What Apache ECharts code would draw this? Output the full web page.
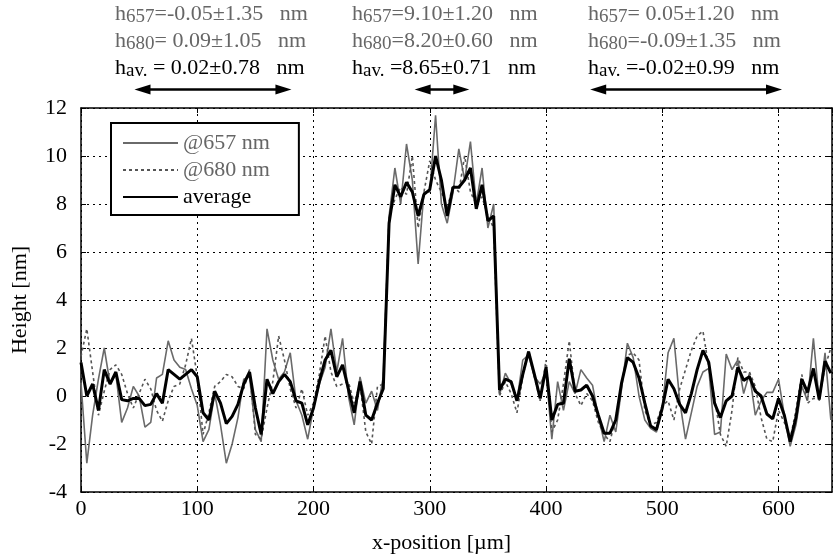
<!DOCTYPE html>
<html><head><meta charset="utf-8">
<script src="https://cdn.jsdelivr.net/npm/echarts@6/dist/echarts.min.js"></script>
<style>html,body{margin:0;padding:0;background:#fff}#c{width:833px;height:559px}</style>
</head><body><div id="c"></div>
<script>
// x positions in µm
const xPositions = [
  0,5,10,15,20,25,30,35,40,45, 50,55,60,65,70,75,80,85,90,95,
  100,105,110,115,120,125,130,135,140,145, 150,155,160,165,170,175,180,185,190,195,
  200,205,210,215,220,225,230,235,240,245, 250,255,260,265,270,275,280,285,290,295,
  300,305,310,315,320,325,330,335,340,345, 350,355,360,365,370,375,380,385,390,395,
  400,405,410,415,420,425,430,435,440,445, 450,455,460,465,470,475,480,485,490,495,
  500,505,510,515,520,525,530,535,540,545, 550,555,560,565,570,575,580,585,590,595,
  600,605,610,615,620,625,630,635,640,645
];
// Height [nm] measured @657 nm
const height657 = [
  0.55,-2.8,-0.8,0.7,2.0,0.5,0.9,-1.1,-0.5,0.4,
  0.0,-1.3,-1.1,0.75,0.9,2.3,1.5,1.2,1.1,0.3,
  -0.4,-1.9,-1.4,0.1,-1.2,-2.8,-2.0,-0.9,0.7,0.8,
  -1.4,-1.9,2.8,1.5,0.7,1.0,1.8,-0.2,-0.8,-1.8,
  -0.5,0.5,1.2,2.8,1.0,2.4,0.0,-1.2,0.8,-0.3,
  0.2,-0.6,0.8,7.5,9.5,8.0,10.5,9.0,5.5,8.5,
  8.5,11.7,8.0,7.2,8.5,10.3,9.0,10.6,8.0,9.5,
  7.0,8.0,0.05,0.95,0.5,-0.2,1.5,1.7,0.8,0.5,
  1.0,-1.8,0.6,-0.6,0.6,0.1,1.1,0.75,0.45,-0.85,
  -1.9,-0.8,-1.5,0.3,2.2,1.6,0.0,-1.0,-1.35,-1.5,
  -0.5,1.8,2.4,-0.2,-1.8,-0.7,0.4,1.0,1.15,-1.6,
  -1.5,1.75,1.1,1.5,0.1,0.95,-0.8,-0.2,0.15,0.15,
  0.7,-0.8,-2.1,-1.2,0.4,-0.2,2.4,-0.2,1.8,-1.0
];
// Height [nm] measured @680 nm
const height680 = [
  1.65,2.8,1.0,-0.8,0.2,1.1,1.3,0.9,0.1,-0.5,
  0.1,0.7,0.3,-0.6,-1.05,-0.2,0.4,0.5,1.3,2.4,
  0.8,-1.6,-0.7,0.4,0.6,0.9,0.8,0.4,0.3,1.1,
  -1.6,-1.8,-0.5,0.6,2.5,1.5,0.3,-0.5,0.3,-0.8,
  -0.3,0.9,2.5,1.0,0.4,0.5,0.6,-0.3,0.5,-1.5,
  -2.0,0.4,0.5,7.5,8.2,8.7,8.4,10.0,7.0,8.5,
  9.8,9.0,8.5,7.8,8.8,8.5,10.0,8.5,8.0,8.3,
  7.5,7.0,0.0,0.6,0.1,-0.7,0.8,1.9,0.8,-0.2,
  1.5,-1.5,-1.0,0.5,2.3,0.1,-0.4,0.1,-0.2,-1.1,
  -1.6,-1.9,-0.9,0.5,1.7,1.8,1.5,-0.6,-1.2,-1.1,
  -0.4,-0.2,-1.0,0.3,1.1,1.9,2.5,2.7,1.2,-0.1,
  -1.6,-2.1,-0.6,1.6,1.0,1.0,0.4,-0.9,-1.8,-1.9,
  -0.6,-1.1,-1.8,-0.6,0.9,-0.3,-0.1,-0.1,1.2,2.0
];
// Height [nm] average
const heightAverage = [
  1.4,0.0,0.5,-0.6,1.1,0.5,1.0,-0.15,-0.2,-0.1,
  -0.1,-0.4,-0.35,0.1,-0.3,1.1,0.9,0.7,0.9,1.1,
  0.8,-0.7,-1.0,0.2,-0.3,-1.15,-0.85,-0.35,0.5,1.0,
  -0.5,-1.6,0.7,0.1,0.6,0.9,0.6,-0.2,-0.3,-1.2,
  -0.5,0.6,1.5,1.9,0.8,1.3,0.3,-0.7,0.6,-0.8,
  -1.0,-0.3,0.3,7.2,8.8,8.3,8.9,8.5,7.5,8.4,
  8.6,10.0,9.0,7.5,8.7,8.7,9.0,9.5,7.8,8.8,
  7.3,7.5,0.25,0.7,0.6,-0.2,0.9,1.85,0.9,-0.1,
  1.2,-1.0,-0.35,-0.3,1.55,0.2,0.25,0.45,0.0,-0.8,
  -1.55,-1.55,-1.0,0.55,1.6,1.4,0.75,-0.3,-1.25,-1.4,
  -0.5,0.7,0.3,-0.35,-0.7,0.1,1.1,1.9,1.4,-0.3,
  -0.9,-0.2,0.0,1.2,0.65,0.8,0.2,0.0,-0.75,-0.95,
  -0.1,-0.8,-1.9,-0.9,0.7,0.15,1.15,-0.15,1.45,0.95
];
const seriesNames = ['@657 nm', '@680 nm', 'average'];
// annotated x ranges (µm) and their statistics
const spanStarts = [46, 287, 438];
const spanEnds = [181, 334, 603];
const label657 = ['=-0.05±1.35   nm', '=9.10±1.20   nm', '= 0.05±1.20   nm'];
const label680 = ['= 0.09±1.05   nm', '=8.20±0.60   nm', '=-0.09±1.35   nm'];
const labelAvg = [' = 0.02±0.78   nm', ' =8.65±0.71   nm', ' =-0.02±0.99   nm'];
const textLeft = [115, 352, 588];

const FONT = "'Liberation Serif','Times New Roman',serif";
const GRAY = '#666666';
const pairs = arr => xPositions.map((x, i) => [x, arr[i]]);

const chart = echarts.init(document.getElementById('c'), null, {renderer: 'canvas'});
const gridLine = {show: true, lineStyle: {color: '#000', width: 1, type: [2, 4]}};
const axisLineStyle = {show: true, onZero: false, lineStyle: {color: '#000', width: 1.5}};
const tick = {show: true, inside: true, length: 5, lineStyle: {color: '#000', width: 1}};

chart.setOption({
  animation: false,
  backgroundColor: '#fff',
  grid: {left: 81, right: 1, top: 108, bottom: 67, containLabel: false},
  legend: {
    orient: 'vertical', left: 111, top: 123,
    padding: [9, 29, 7, 11], itemGap: 5, itemWidth: 55, itemHeight: 20,
    borderColor: '#000', borderWidth: 2, backgroundColor: '#fff',
    itemStyle: {opacity: 0},
    textStyle: {fontFamily: FONT, fontSize: 22},
    data: [
      {name: seriesNames[0], textStyle: {color: GRAY}},
      {name: seriesNames[1], textStyle: {color: GRAY}},
      {name: seriesNames[2], textStyle: {color: '#000'}}
    ]
  },
  xAxis: [{
    type: 'value', min: 0, max: 646, interval: 100, position: 'bottom',
    axisLine: axisLineStyle, axisTick: tick,
    axisLabel: {color: '#000', fontFamily: FONT, fontSize: 22, margin: 6, showMaxLabel: false},
    splitLine: gridLine,
    name: 'x-position [µm]', nameLocation: 'middle', nameGap: 40,
    nameTextStyle: {color: '#000', fontFamily: FONT, fontSize: 22, padding: [0, 30, 0, 0]}
  }, {
    type: 'value', min: 0, max: 646, interval: 100, position: 'top',
    axisLine: axisLineStyle, axisTick: tick, axisLabel: {show: false}, splitLine: {show: false}
  }],
  yAxis: [{
    type: 'value', min: -4, max: 12, interval: 2, position: 'left',
    axisLine: axisLineStyle, axisTick: tick,
    axisLabel: {color: '#000', fontFamily: FONT, fontSize: 22, margin: 14},
    splitLine: gridLine,
    name: 'Height [nm]', nameLocation: 'middle', nameGap: 50,
    nameTextStyle: {color: '#000', fontFamily: FONT, fontSize: 22}
  }, {
    type: 'value', min: -4, max: 12, interval: 2, position: 'right',
    axisLine: axisLineStyle, axisTick: tick, axisLabel: {show: false}, splitLine: {show: false}
  }],
  series: [
    {name: seriesNames[0], type: 'line', data: pairs(height657), symbol: 'none', z: 3,
     lineStyle: {color: '#6a6a6a', width: 1.6}, itemStyle: {color: '#6a6a6a'}},
    {name: seriesNames[1], type: 'line', data: pairs(height680), symbol: 'none', z: 4,
     lineStyle: {color: '#555555', width: 1.6, type: [3, 3]}, itemStyle: {color: '#555555'}},
    {name: seriesNames[2], type: 'line', data: pairs(heightAverage), symbol: 'none', z: 5,
     lineStyle: {color: '#000', width: 3}, itemStyle: {color: '#000'}}
  ]
});

// annotations above the plot
const graphics = [];
const richStyle = (color) => ({
  m: {fontFamily: FONT, fontSize: 22, fill: color, color: color, verticalAlign: 'bottom', padding: [0, 0, 2, 0]},
  s: {fontFamily: FONT, fontSize: 19, fill: color, color: color, verticalAlign: 'bottom'}
});
const lineY = [15, 42, 69];
for (let i = 0; i < spanStarts.length; i++) {
  const rows = [
    {t: '{m|h}{s|657}{m|' + label657[i] + '}', c: GRAY},
    {t: '{m|h}{s|680}{m|' + label680[i] + '}', c: GRAY},
    {t: '{m|h}{s|av.}{m|' + labelAvg[i] + '}', c: '#000'}
  ];
  rows.forEach((r, k) => {
    graphics.push({type: 'text', x: textLeft[i], y: lineY[k], z: 10,
      style: {text: r.t, rich: richStyle(r.c), fill: r.c, align: 'left', verticalAlign: 'middle', font: '22px ' + FONT}});
  });
  const xa = chart.convertToPixel({xAxisIndex: 0}, spanStarts[i]);
  const xb = chart.convertToPixel({xAxisIndex: 0}, spanEnds[i]);
  const ay = 89.5, hl = 16, hw = 5;
  graphics.push({type: 'line', z: 10, shape: {x1: xa + hl - 2, y1: ay, x2: xb - hl + 2, y2: ay},
    style: {stroke: '#000', lineWidth: 2.5}});
  graphics.push({type: 'polygon', z: 10, shape: {points: [[xa, ay], [xa + hl, ay - hw], [xa + hl, ay + hw]]},
    style: {fill: '#000'}});
  graphics.push({type: 'polygon', z: 10, shape: {points: [[xb, ay], [xb - hl, ay - hw], [xb - hl, ay + hw]]},
    style: {fill: '#000'}});
}
chart.setOption({graphic: graphics});
</script>
</body></html>
